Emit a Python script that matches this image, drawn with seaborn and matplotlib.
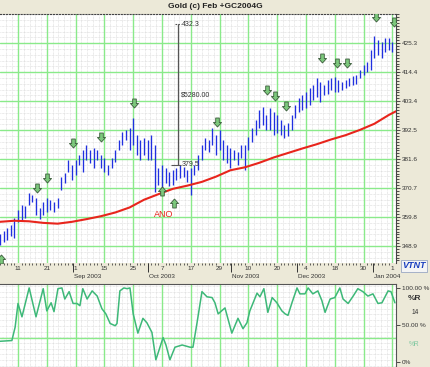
import numpy as np
import pandas as pd
import matplotlib
matplotlib.use("Agg")
import matplotlib.pyplot as plt
from matplotlib.path import Path
from matplotlib.ticker import FixedLocator
import seaborn as sns

# ---- data (bar index 0 = first session shown) ----
bar_high = [353.5, 354.6, 355.7, 356.9, 359.5, 362.5, 364.4, 364.0, 368.9, 368.1,
            367.0, 363.2, 365.5, 367.0, 366.3, 365.5, 367.0, 374.9, 376.4, 381.3,
            379.4, 381.3, 383.2, 385.1, 387.0, 385.1, 385.8, 385.1, 383.2, 382.1,
            379.4, 382.1, 385.1, 388.8, 391.8, 392.6, 393.3, 397.1, 390.7, 388.8,
            389.6, 388.8, 390.7, 386.9, 378.3, 379.4, 378.3, 376.8, 377.5, 378.3,
            379.4, 378.7, 377.5, 378.3, 379.4, 383.2, 386.9, 389.6, 388.8, 393.3,
            390.7, 392.6, 388.8, 386.9, 385.8, 385.1, 384.3, 386.9, 386.9, 389.9,
            393.3, 396.3, 400.1, 401.2, 398.2, 400.8, 399.4, 398.2, 396.3, 394.5,
            395.2, 398.2, 402.0, 404.6, 405.7, 406.9, 408.4, 409.5, 412.1, 410.6,
            409.5, 411.4, 412.1, 412.5, 411.4, 410.6, 411.4, 412.1, 412.9, 413.3,
            415.1, 417.0, 418.2, 422.7, 427.9, 426.4, 425.7, 427.2, 427.2, 425.7]
bar_low = [349.4, 350.5, 351.2, 352.7, 352.0, 358.0, 358.8, 359.5, 364.4, 365.5,
           360.6, 359.1, 360.6, 361.8, 362.5, 361.8, 363.3, 370.0, 372.7, 376.8,
           373.8, 375.7, 379.4, 376.8, 381.3, 380.2, 378.3, 381.3, 378.3, 376.8,
           375.7, 378.3, 380.6, 385.1, 386.9, 388.8, 385.1, 386.9, 383.2, 381.3,
           383.2, 381.3, 381.3, 369.3, 371.9, 370.0, 372.7, 371.5, 371.9, 373.8,
           374.5, 374.9, 373.0, 368.1, 375.7, 377.5, 381.3, 385.1, 384.3, 386.9,
           383.2, 385.1, 381.3, 380.2, 378.3, 381.3, 379.4, 382.1, 377.5, 385.1,
           388.1, 390.7, 393.3, 394.5, 392.6, 392.6, 390.7, 391.5, 390.7, 389.6,
           390.3, 392.6, 397.1, 399.4, 400.1, 400.8, 402.0, 403.9, 405.0, 403.1,
           405.7, 406.1, 407.6, 406.9, 406.9, 407.6, 408.4, 409.1, 409.5, 409.9,
           412.1, 413.3, 414.4, 415.1, 419.7, 420.8, 419.7, 421.9, 422.7, 421.9]

ma_idx = [0, 4, 8, 12, 16, 20, 24, 28, 32, 36, 40, 44, 48, 52, 56, 60, 64, 68,
          72, 76, 80, 84, 88, 92, 96, 100, 104, 108, 110]
ma_val = [358.0, 358.4, 358.2, 357.6, 357.3, 358.0, 359.0, 360.1, 361.5, 363.4,
          366.3, 368.4, 370.4, 371.6, 373.0, 375.0, 377.4, 378.5, 380.2, 382.2,
          383.9, 385.6, 387.2, 389.0, 390.6, 392.6, 394.9, 398.2, 399.6]

willr_idx = [0, 3.3, 4.2, 5, 6.1, 8.1, 10, 12, 13, 14.2, 15, 16.1, 17.2, 18, 19.2,
             20.3, 21.4, 22.2, 23, 24.2, 25.6, 27, 28.3, 29.4, 30.6, 32, 32.5, 33.3,
             34.4, 35.3, 36.1, 37, 38.3, 39.7, 40.8, 42.2, 43.3, 45.3, 46.1, 47.2,
             48.6, 50.6, 52.8, 53.6, 54.7, 56.1, 57.5, 58.9, 59.7, 60.6, 62.5, 64.4,
             66.1, 67.5, 68.6, 69.4, 71.4, 72.2, 73.3, 74.4, 75.6, 76.9, 78.3, 79.2,
             80, 81.1, 82.5, 83.3, 84.7, 85.6, 86.9, 88.3, 89.4, 90.3, 91.7, 93,
             94.4, 95.3, 96.7, 98.1, 99.4, 100.8, 102.2, 103.6, 105, 106.1, 107.8,
             108.6, 109.7]
willr_val = [28, 29, 47, 79, 61, 100, 61, 99, 69, 80, 68, 99, 100, 85, 95, 79, 79,
             76, 99, 85, 96, 89, 72, 65, 52, 49, 52, 96, 100, 99, 100, 65, 39, 59,
             53, 40, 3, 33, 23, 3, 20, 23, 20, 20, 52, 95, 88, 87, 80, 65, 73, 39,
             59, 45, 53, 69, 93, 88, 99, 67, 87, 80, 69, 65, 63, 80, 100, 92, 92,
             100, 92, 96, 83, 67, 85, 87, 100, 85, 79, 89, 99, 95, 89, 92, 79, 80,
             96, 95, 80]

sell_idx = [10.3, 13.1, 20.3, 28.1, 37.2, 60.3, 74.2, 76.4, 79.4, 89.4, 93.6, 96.4, 104.4, 109.4]
sell_px = [370.7, 374.5, 387.7, 389.9, 402.7, 395.6, 407.6, 405.4, 401.6, 419.7, 417.8, 417.8, 435.1, 433.2]
buy_idx = [45.0, 48.3, 0.3]
buy_px = [369.6, 365.1, 344.0]

date_ticks = [5, 13, 21, 29, 37, 45, 53, 61, 69, 77, 85, 93, 101, 109]
date_labels = ["11", "21", "1", "15", "25", "7", "17", "29", "10", "20", "4", "18", "30", "1"]
month_pos = [20.3, 41.1, 64.2, 82.5, 103.6]
month_labels = ["Sep 2003", "Oct 2003", "Nov 2003", "Dec 2003", "Jan 2004"]
price_ticks = [348.9, 359.8, 370.7, 381.6, 392.5, 403.4, 414.4, 425.3]

span_top, span_bottom = 432.3, 379.5
span_idx = 49.4

# ---- style ----
sns.set_theme(style="white")
plt.rcParams['font.family'] = ['Liberation Sans', 'DejaVu Sans']

BEIGE = '#ECE9D8'
GRID = '#8AEA8A'
MINOR = '#D6D6D6'
BLUE = '#2030E0'
RED = '#E8251C'
RLINE = '#3DB878'

W, H = 430, 367
fig = plt.figure(figsize=(W / 100, H / 100), dpi=100, facecolor=BEIGE)
ax = fig.add_axes([0, 1 - 263 / H, 396 / W, (263 - 14) / H])
ax2 = fig.add_axes([0, 0, 396 / W, (366 - 283) / H])


def fine_grid(a, xs, ys):
    for x in xs:
        a.axvline(x, color=MINOR, lw=0.5, ls=(0, (1, 1)), zorder=0)
    for y in ys:
        a.axhline(y, color=MINOR, lw=0.5, ls=(0, (1, 1)), zorder=0)


step = price_ticks[1] - price_ticks[0]
xs_fine = np.arange(date_ticks[0] - 3.2, 110, 1.6)

# ---- upper price panel ----
ax.set_facecolor('white')
ax.set_xlim(0, 110)
ax.set_ylim(342.5, 436.2)
fine_grid(ax, xs_fine, np.arange(price_ticks[0] - step, 437, step / 5))
for x in date_ticks:
    ax.axvline(x, color=GRID, lw=1.0, zorder=1)
for y in price_ticks:
    ax.axhline(y, color=GRID, lw=1.0, zorder=1)

idx = np.arange(len(bar_high))
ax.vlines(idx, bar_low, bar_high, color=BLUE, lw=0.95, zorder=3)

ma = pd.DataFrame({'i': ma_idx, 'ma': ma_val})
sns.lineplot(data=ma, x='i', y='ma', ax=ax, color=RED, lw=1.5, sort=False,
             estimator=None, legend=False, zorder=4)

down = Path([(-0.4, 1), (0.4, 1), (0.4, 0.0), (0.9, 0.0), (0, -1), (-0.9, 0.0),
             (-0.4, 0.0), (-0.4, 1)],
            [Path.MOVETO] + [Path.LINETO] * 6 + [Path.CLOSEPOLY])
up = Path([(v[0], -v[1]) for v in down.vertices], down.codes)
ax.scatter(sell_idx, sell_px, marker=down, s=42, facecolor='#7CC87C',
           edgecolor='#3A5A3A', linewidth=0.6, zorder=6)
ax.scatter(buy_idx, buy_px, marker=up, s=42, facecolor='#7CC87C',
           edgecolor='#3A5A3A', linewidth=0.6, zorder=6)

ax.vlines(span_idx, span_bottom, span_top, color='#555555', lw=0.9, zorder=5)
ax.hlines(span_top, span_idx - 0.9, span_idx + 0.9, color='#555555', lw=0.8,
          linestyles=(0, (1.5, 1)), zorder=5)
ax.hlines(span_bottom, span_idx - 2.0, span_idx + 0.9, color='#555555', lw=0.8, zorder=5)
ax.text(span_idx + 1.2, span_top, f"{span_top}", fontsize=5, color='#333333', va='center')
ax.text(span_idx + 1.0, 405.7, f"${(span_top - span_bottom) * 100:.2f}",
        fontsize=5, color='#333333', va='center')
ax.text(span_idx + 1.2, span_bottom, f"{span_bottom}", fontsize=5, color='#333333', va='center')
ax.text(45.6, 360.6, "ANO", fontsize=6.5, color=RED, ha='center', va='center', zorder=6)

ax.yaxis.tick_right()
ax.set_yticks(price_ticks)
ax.set_yticklabels([f"{p}" for p in price_ticks])
ax.yaxis.set_minor_locator(FixedLocator(np.arange(price_ticks[0] - step, 436.2, step / 10)))
ax.tick_params(axis='y', which='major', labelsize=4.6, length=3, width=0.6,
               pad=1, color='#333333', labelcolor='#333333', right=True)
ax.tick_params(axis='y', which='minor', length=2, width=0.6, color='#333333', right=True)
ax.set_xticks(date_ticks)
ax.set_xticklabels(date_labels)
ax.xaxis.set_minor_locator(FixedLocator(np.arange(0, 110, 1.0)))
ax.tick_params(axis='x', which='major', labelsize=4.6, length=0, pad=2.2,
               labelcolor='#333333', bottom=True)
ax.tick_params(axis='x', which='minor', length=1.5, width=0.6, color='#444444', bottom=True)
ax.vlines(month_pos, -0.035, 0, transform=ax.get_xaxis_transform(), color='#333333',
          lw=0.7, clip_on=False)
for pos, lab in zip(month_pos, month_labels):
    ax.text(pos + 0.3, -0.043, lab, transform=ax.get_xaxis_transform(), fontsize=4.6,
            color='#333333', ha='left', va='top', clip_on=False)
ax.set_xlabel('')
ax.set_ylabel('')
for s in ['left', 'bottom']:
    ax.spines[s].set_visible(False)
ax.spines['top'].set_linestyle(':')
ax.spines['top'].set_color('#444444')
ax.spines['top'].set_linewidth(0.8)
ax.spines['right'].set_color('#444444')
ax.spines['right'].set_linewidth(0.8)

# ---- lower %R panel ----
ax2.set_facecolor('white')
ax2.set_xlim(0, 110)
ax2.set_ylim(-6.7, 105.3)
fine_grid(ax2, xs_fine, np.arange(-5, 105, 7.7))
for x in date_ticks:
    ax2.axvline(x, color=GRID, lw=1.0, zorder=1)
ax2.axhline(32, color=GRID, lw=1.0, zorder=1)
wr = pd.DataFrame({'i': willr_idx, 'r': willr_val})
sns.lineplot(data=wr, x='i', y='r', ax=ax2, color=RLINE, lw=1.1, sort=False,
             estimator=None, legend=False, zorder=3)
ax2.set_xticks([])
ax2.yaxis.tick_right()
ax2.set_yticks([0, 50, 100])
ax2.set_yticklabels(["0%", "50.00 %", "100.00 %"])
ax2.tick_params(axis='y', labelsize=4.6, length=3, width=0.6, pad=1,
                color='#333333', labelcolor='#333333', right=True)
ax2.set_xlabel('')
ax2.set_ylabel('')
for s in ['left', 'bottom']:
    ax2.spines[s].set_visible(False)
for s in ['top', 'right']:
    ax2.spines[s].set_color('#555555')
    ax2.spines[s].set_linewidth(0.8)

# ---- frame texts ----
def fx(px):
    return px / W


def fy(py):
    return 1 - py / H


fig.text(fx(215), fy(7), "Gold (c) Feb +GC2004G", fontsize=6, fontweight='bold',
         color='#222222', ha='center', va='center')
fig.text(fx(414), fy(299), "%R", fontsize=6, fontweight='bold', color='#333333',
         ha='center', va='center')
fig.text(fx(415), fy(312), "14", fontsize=4.8, color='#333333', ha='center', va='center')
fig.text(fx(414), fy(344), "%R", fontsize=4.8, color='#7FC8A0', ha='center', va='center')
fig.text(fx(414), fy(266), "VTNT", fontsize=6.5, fontweight='bold', fontstyle='italic',
         color='#1A3FBF', ha='center', va='center',
         bbox=dict(boxstyle='square,pad=0.15', facecolor='#F4F4F4', edgecolor='#8899BB', lw=0.5))

fig.savefig('out.png', dpi=100, facecolor=BEIGE)
